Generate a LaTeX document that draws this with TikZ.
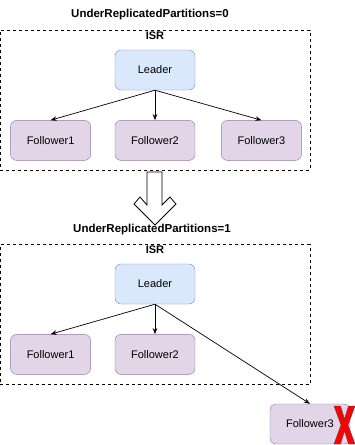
\documentclass[tikz,border=0pt]{standalone}
\usepackage{fontspec}
\setmainfont{Liberation Sans}
\usepackage{tikz}
\usetikzlibrary{
  arrows.meta,
  positioning,
}
\definecolor{leadfill}{HTML}{DAE8FC}
\definecolor{leaddraw}{HTML}{6C8EBF}
\definecolor{follfill}{HTML}{E1D5E7}
\definecolor{folldraw}{HTML}{9673A6}

\begin{document}
\begin{tikzpicture}[
  x=1pt, y=-1pt,
  >=Stealth,
  leader/.style={
    draw=leaddraw, fill=leadfill, rounded corners=6pt,
    minimum width=80pt, minimum height=40pt, font=\fontsize{11}{13}\selectfont,
  },
  follower/.style={
    draw=folldraw, fill=follfill, rounded corners=6pt,
    minimum width=80pt, minimum height=40pt, font=\fontsize{11}{13}\selectfont,
  },
  isrbox/.style={
    draw, dashed, minimum width=310pt, minimum height=140pt, inner sep=0pt,
    label={[anchor=north, inner sep=1.5pt, font=\fontsize{11}{13}\selectfont\bfseries]north:ISR},
  },
  title/.style={font=\fontsize{11.5}{13}\selectfont\bfseries, inner sep=1pt},
  link/.style={->, line width=0.7pt},
]
\useasboundingbox (0,0) rectangle (355,445);

% ── Before ──────────────────────────────────────────────────────────
\node[title] (title1) at (150,15) {UnderReplicatedPartitions=0};
\node[isrbox] (isr1) at (155,100) {};

\node[leader] (lead1) at (155,70) {Leader};
\node[follower, below=30pt of lead1] (f2a) {Follower2};
\node[follower, left=24pt of f2a]  (f1a) {Follower1};
\node[follower, right=26pt of f2a] (f3a) {Follower3};

\draw[link] (lead1.south) -- (f1a.north);
\draw[link] (lead1.south) -- (f2a.north);
\draw[link] (lead1.south) -- (f3a.north);

% ── Transition arrow ────────────────────────────────────────────────
\draw[fill=white, line width=0.8pt]
  (147,172) -- (162,172) -- (162,205) -- (170,197) -- (176,204)
  -- (155,225) -- (134,204) -- (140,197) -- (147,205) -- cycle;

% ── After ───────────────────────────────────────────────────────────
\node[title] (title2) at (152,230) {UnderReplicatedPartitions=1};
\node[isrbox] (isr2) at (155,314.5) {};

\node[leader] (lead2) at (155,284) {Leader};
\node[follower, below=30pt of lead2] (f2b) {Follower2};
\node[follower, left=24pt of f2b]  (f1b) {Follower1};
\node[follower] (f3b) at (310,424) {Follower3};

\draw[link] (lead2.south) -- (f1b.north);
\draw[link] (lead2.south) -- (f2b.north);
\draw[link] (lead2.south) -- (f3b.north);

% red cross on the dropped follower
\draw[fill=red, draw=black!70, line width=0.4pt, shift={(344.5,425)}]
  (-10.5,-19) -- (-4,-19) -- (0,-6) -- (4,-19) -- (10.5,-19) -- (3.5,0)
  -- (10.5,19) -- (4,19) -- (0,6) -- (-4,19) -- (-10.5,19) -- (-3.5,0) -- cycle;

\end{tikzpicture}
\end{document}
